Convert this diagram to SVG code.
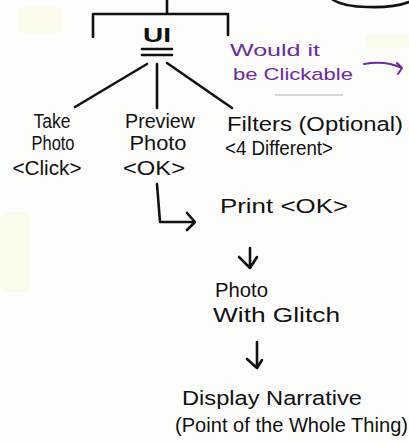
<svg xmlns="http://www.w3.org/2000/svg" width="409" height="444" viewBox="0 0 409 444">
<style>
.t{font-family:"Liberation Sans","DejaVu Sans",sans-serif;font-size:20px;fill:#111}
.p{font-family:"Liberation Sans","DejaVu Sans",sans-serif;font-size:17px;fill:#6b2aa0}
.ln{stroke:#111;stroke-width:2.6;fill:none;stroke-linecap:round;stroke-linejoin:round}
.pl{stroke:#6b2aa0;stroke-width:2;fill:none;stroke-linecap:round;stroke-linejoin:round}
</style>
<rect width="409" height="444" fill="#fdfdfb"/>
<g opacity="0.2" fill="#fbf3b0">
<rect x="18" y="6" width="45" height="28" rx="8"/>
<rect x="365" y="34" width="44" height="14" rx="6"/>
<rect x="0" y="212" width="30" height="80" rx="8"/>
</g>
<g id="connectors">
<path class="ln" d="M167 0 L167 14 M93 37 L93 14 L228 14 L228 35"/>
<path class="ln" d="M333 0 Q345 7 367 7 Q393 8 409 2"/>
<path class="ln" d="M147 64 L75 107 M157 64 L157 108 M167 63 L232 108"/>
<path class="ln" d="M157 184 L160 222 L194 222 M187 213 L195 222 L187 230"/>
<path class="ln" d="M250 248 L250 268 M239 257 L250 268 L257 257"/>
<path class="ln" d="M257 342 L257 368 M247 359 L257 368 L262 360"/>
<path class="pl" d="M364 64 Q385 60 402 68 M397 63 L402 68 L398 74"/>
<path d="M275 95 L343 95" stroke="#555" stroke-width="1.5" opacity="0.3"/>
</g>
<g id="ui">
<text class="t" x="157" y="42" text-anchor="middle" font-size="15" font-weight="bold" textLength="28" lengthAdjust="spacingAndGlyphs">UI</text>
<path class="ln" d="M142 49 L172 49 M142 55 L172 55"/>
</g>
<g id="clickable-note">
<text class="p" x="230" y="56" textLength="90" lengthAdjust="spacingAndGlyphs">Would it</text>
<text class="p" x="233" y="80" textLength="120" lengthAdjust="spacingAndGlyphs">be Clickable</text>
</g>
<g id="take-photo">
<text class="t" x="52" y="128" text-anchor="middle" textLength="37" lengthAdjust="spacingAndGlyphs">Take</text>
<text class="t" x="53" y="150" text-anchor="middle" textLength="43" lengthAdjust="spacingAndGlyphs">Photo</text>
<text class="t" x="47" y="175" text-anchor="middle" textLength="69" lengthAdjust="spacingAndGlyphs">&lt;Click&gt;</text>
</g>
<g id="preview-photo">
<text class="t" x="160" y="128" text-anchor="middle" textLength="70" lengthAdjust="spacingAndGlyphs">Preview</text>
<text class="t" x="158" y="150" text-anchor="middle" textLength="57" lengthAdjust="spacingAndGlyphs">Photo</text>
<text class="t" x="154" y="175" text-anchor="middle" textLength="62" lengthAdjust="spacingAndGlyphs">&lt;OK&gt;</text>
</g>
<g id="filters">
<text class="t" x="227" y="131" textLength="176" lengthAdjust="spacingAndGlyphs">Filters (Optional)</text>
<text class="t" x="225" y="155" textLength="108" lengthAdjust="spacingAndGlyphs">&lt;4 Different&gt;</text>
</g>
<g id="print">
<text class="t" x="220" y="213" font-size="21" textLength="128" lengthAdjust="spacingAndGlyphs">Print &lt;OK&gt;</text>
</g>
<g id="photo-glitch">
<text class="t" x="215" y="297" textLength="53" lengthAdjust="spacingAndGlyphs">Photo</text>
<text class="t" x="213" y="322" textLength="127" lengthAdjust="spacingAndGlyphs">With Glitch</text>
</g>
<g id="display-narrative">
<text class="t" x="182" y="405" font-size="22" textLength="180" lengthAdjust="spacingAndGlyphs">Display Narrative</text>
<text class="t" x="175" y="432" font-size="18" textLength="233" lengthAdjust="spacingAndGlyphs">(Point of the Whole Thing)</text>
</g>
</svg>
